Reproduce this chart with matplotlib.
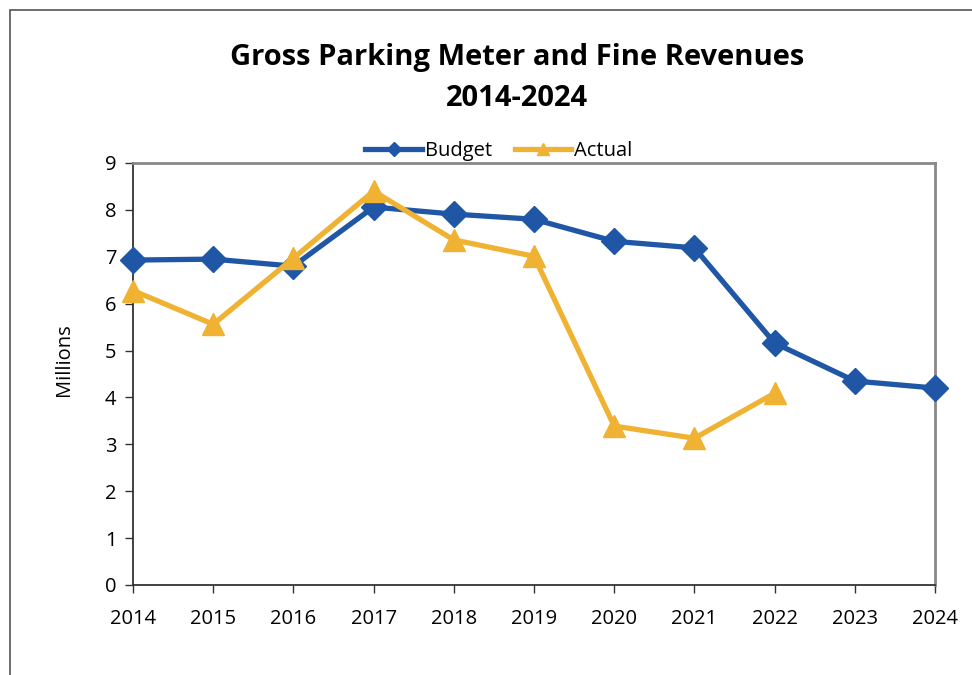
import matplotlib.pyplot as plt
from matplotlib.patches import Rectangle

# chart data
years = [2014, 2015, 2016, 2017, 2018, 2019, 2020, 2021, 2022, 2023, 2024]
budget = [6.93, 6.95, 6.80, 8.06, 7.91, 7.80, 7.33, 7.19, 5.16, 4.35, 4.20]
actual_years = [2014, 2015, 2016, 2017, 2018, 2019, 2020, 2021, 2022]
actual = [6.28, 5.56, 6.97, 8.40, 7.36, 7.01, 3.39, 3.13, 4.09]

blue = '#1F56A5'
gold = '#F0B232'

plt.rcParams['font.family'] = ['Open Sans', 'DejaVu Sans']

fig = plt.figure(figsize=(9.72, 6.75), dpi=100)
ax = fig.add_axes([133/972, 1 - 585/675, (935 - 133)/972, (585 - 163)/675])

# outer chart frame
fig.patches.append(Rectangle((10/972, -0.1), 1.2, 1 - 10/675 + 0.1,
                             transform=fig.transFigure, fill=False,
                             edgecolor='#555555', linewidth=1.2))

ax.plot(years, budget, color=blue, linewidth=3.8, marker='D', markersize=13,
        label='Budget', zorder=3, clip_on=False)
ax.plot(actual_years, actual, color=gold, linewidth=3.8, marker='^', markersize=16,
        label='Actual', zorder=4, clip_on=False)

ax.set_xlim(2014, 2024)
ax.set_ylim(0, 9)
ax.set_xticks(years)
ax.set_yticks(range(0, 10))
ax.tick_params(axis='both', direction='out', length=6, width=1, color='#333333',
               labelsize=14.5, pad=6)
ax.tick_params(axis='x', pad=11)

for s in ['left', 'bottom']:
    ax.spines[s].set_color('#333333')
    ax.spines[s].set_linewidth(1.3)
for s in ['top', 'right']:
    ax.spines[s].set_color('#888888')
    ax.spines[s].set_linewidth(2)

ax.set_ylabel('Millions', fontsize=14.5)
ax.yaxis.set_label_coords(-59/802, 0.535)

fig.text(517/972, 1 - 58/675, 'Gross Parking Meter and Fine Revenues',
         ha='center', va='center', fontsize=21, fontweight='bold')
fig.text(517/972, 1 - 98/675, '2014-2024',
         ha='center', va='center', fontsize=21, fontweight='bold')

leg = ax.legend(loc='center', bbox_to_anchor=(499/972, 1 - 151/675),
                bbox_transform=fig.transFigure, ncol=2, frameon=False,
                fontsize=14.5, markerscale=0.55, handlelength=2.8,
                columnspacing=1.15, handletextpad=0.15, borderpad=0)

fig.savefig('out.png', dpi=100)
